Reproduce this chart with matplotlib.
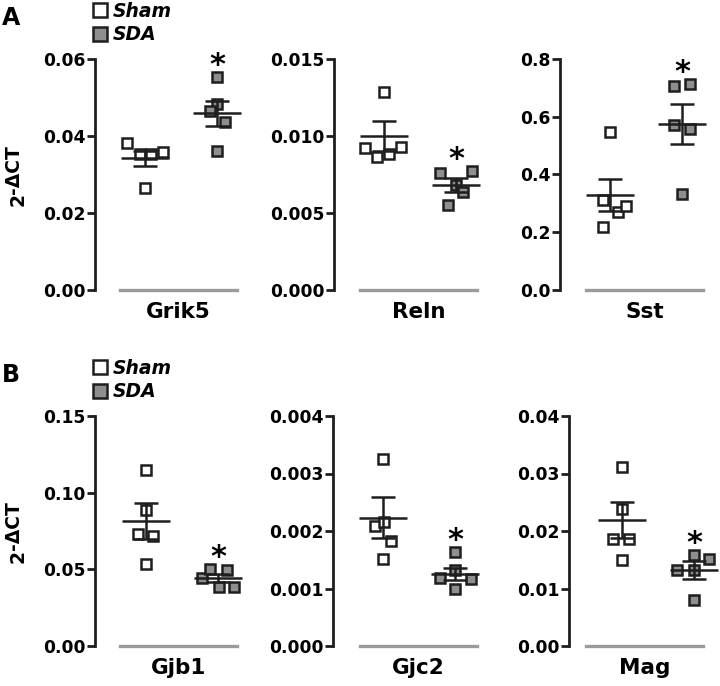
import matplotlib.pyplot as plt
from matplotlib.lines import Line2D

plt.rcParams['font.family'] = 'DejaVu Sans'
plt.rcParams['font.weight'] = 'bold'

# values (2^-dCT), one row per gene
genes = ['Grik5', 'Reln', 'Sst', 'Gjb1', 'Gjc2', 'Mag']

sham = [
    [0.0381, 0.0352, 0.0352, 0.0358, 0.0266],
    [0.01284, 0.00920, 0.00866, 0.00881, 0.00931],
    [0.548, 0.312, 0.269, 0.291, 0.219],
    [0.1148, 0.0887, 0.0728, 0.0717, 0.0535],
    [0.00325, 0.00209, 0.00216, 0.00183, 0.00151],
    [0.0311, 0.0238, 0.0186, 0.0186, 0.0150],
]
sda = [
    [0.0554, 0.0482, 0.0465, 0.0437, 0.0361],
    [0.00758, 0.00775, 0.00682, 0.00638, 0.00552],
    [0.708, 0.712, 0.571, 0.558, 0.331],
    [0.0445, 0.0500, 0.0495, 0.0385, 0.0385],
    [0.00163, 0.00133, 0.00118, 0.00116, 0.00099],
    [0.0132, 0.0158, 0.0151, 0.0132, 0.0080],
]
sham_mean = [0.0342, 0.0100, 0.329, 0.0815, 0.00223, 0.0219]
sham_sem = [0.0020, 0.0010, 0.057, 0.0120, 0.00036, 0.0031]
sda_mean = [0.0459, 0.00682, 0.575, 0.0442, 0.00125, 0.0132]
sda_sem = [0.0033, 0.00044, 0.070, 0.0025, 0.00010, 0.0015]

y_top = [0.06, 0.015, 0.8, 0.15, 0.004, 0.04]
y_ticklabels = [
    ['0.00', '0.02', '0.04', '0.06'],
    ['0.000', '0.005', '0.010', '0.015'],
    ['0.0', '0.2', '0.4', '0.6', '0.8'],
    ['0.00', '0.05', '0.10', '0.15'],
    ['0.000', '0.001', '0.002', '0.003', '0.004'],
    ['0.00', '0.01', '0.02', '0.03', '0.04'],
]
significant = [True, True, True, True, True, True]

# horizontal scatter of the points inside each group (group spacing = 1)
sham_dx = [
    [-0.25, -0.07, 0.08, 0.25, 0.0],
    [0.0, -0.26, -0.10, 0.07, 0.24],
    [0.0, -0.10, 0.11, 0.22, -0.10],
    [0.0, 0.0, -0.11, 0.10, 0.0],
    [0.0, -0.11, 0.02, 0.11, 0.0],
    [0.0, 0.0, -0.13, 0.10, 0.0],
]
sda_dx = [
    [0.0, 0.0, -0.10, 0.11, 0.0],
    [-0.22, 0.22, 0.0, 0.10, -0.11],
    [-0.11, 0.11, -0.11, 0.11, 0.0],
    [-0.22, -0.11, 0.12, 0.01, 0.22],
    [0.0, 0.0, -0.21, 0.22, 0.0],
    [-0.23, 0.0, 0.21, 0.0, 0.0],
]

# layout in pixels: y spine, sham centre, grey baseline start / end
W, H = 720, 686
UNIT = 72
panel_px = [(95, 145, 120, 237), (334, 384, 360, 477), (560, 610, 586, 703),
            (95, 146, 120, 237), (333, 383, 360, 477), (569, 622, 586, 703)]
row_zero = [290, 646]
row_height = [231, 230]

EDGE = '#1e1e1e'
FILL_SDA = '#8e8e8e'
GREY = '#9b9b9b'

fig = plt.figure(figsize=(W / 100, H / 100), dpi=100)

for i, gene in enumerate(genes):
    spine, c0, g0, g1 = panel_px[i]
    row = i // 3
    y0, h = row_zero[row], row_height[row]
    ax = fig.add_axes([spine / W, (H - y0) / H, 150 / W, h / H])
    left = (spine - c0) / UNIT
    ax.set_xlim(left, left + 150 / UNIT)
    ax.set_ylim(0, y_top[i])

    for k, (vals, dx, fc) in enumerate([(sham[i], sham_dx[i], 'white'),
                                        (sda[i], sda_dx[i], FILL_SDA)]):
        xs = [k + d for d in dx]
        ax.plot(xs, vals, ls='none', marker='s', ms=7.4, mfc=fc, mec=EDGE,
                mew=1.8, clip_on=False, zorder=2)

    means = [sham_mean[i], sda_mean[i]]
    sems = [sham_sem[i], sda_sem[i]]
    ax.hlines(means, [-0.33, 0.67], [0.33, 1.33], color=EDGE, lw=1.8, zorder=3)
    ax.errorbar([0, 1], means, yerr=sems, fmt='none', ecolor=EDGE, elinewidth=1.8,
                capsize=8.5, capthick=1.8, zorder=3, clip_on=False)

    if significant[i]:
        ax.annotate('*', xy=(1, max(sda[i])), xytext=(0, 3), textcoords='offset pixels',
                    ha='center', va='baseline', fontsize=22, fontweight='bold',
                    annotation_clip=False)

    ticks = [float(t) for t in y_ticklabels[i]]
    ax.set_yticks(ticks)
    ax.set_yticklabels(y_ticklabels[i])
    ax.tick_params(axis='y', length=5.5, width=2, pad=1.5, labelsize=12.3, color=EDGE)
    ax.set_xticks([])
    for s in ['top', 'right']:
        ax.spines[s].set_visible(False)
    ax.spines['left'].set_linewidth(2)
    ax.spines['left'].set_color(EDGE)
    ax.spines['bottom'].set_bounds((g0 - c0) / UNIT, (g1 - c0) / UNIT)
    ax.spines['bottom'].set_color(GREY)
    ax.spines['bottom'].set_linewidth(2.4)

    ax.annotate(gene, xy=(((g0 + g1) / 2 - c0) / UNIT, 0), xytext=(0, -12),
                textcoords='offset pixels', ha='center', va='top',
                fontsize=15.5, fontweight='bold', annotation_clip=False)

    if i % 3 == 0:
        # panel letter, legend and y label live on the first axes of the row
        letter = 'AB'[row]
        top = y0 - h
        fig.text(2 / W, 1 - (top - 34) / H, letter, ha='left', va='baseline',
                 fontsize=17, fontweight='bold')
        handles = [Line2D([], [], ls='none', marker='s', ms=10.5, mfc='white', mec=EDGE, mew=1.8),
                   Line2D([], [], ls='none', marker='s', ms=10.5, mfc=FILL_SDA, mec=EDGE, mew=1.8)]
        ax.legend(handles, ['Sham', 'SDA'], loc='upper left',
                  bbox_to_anchor=(92 / W, 1 - (top - 57) / H), bbox_transform=fig.transFigure,
                  frameon=False, borderpad=0, borderaxespad=0, handlelength=0.8,
                  handletextpad=0.3, labelspacing=0.22,
                  prop=dict(size=13.5, weight='bold', style='italic'))
        mid = y0 - h / 2
        fig.text(18 / W, 1 - (mid + 32) / H, '2', rotation=90, ha='center', va='bottom',
                 fontsize=13.5, fontweight='bold')
        fig.text(14 / W, 1 - (mid + 19) / H, '-\u0394CT', rotation=90, ha='center', va='bottom',
                 fontsize=13.5, fontweight='bold')

fig.savefig('out.png', dpi=100)
